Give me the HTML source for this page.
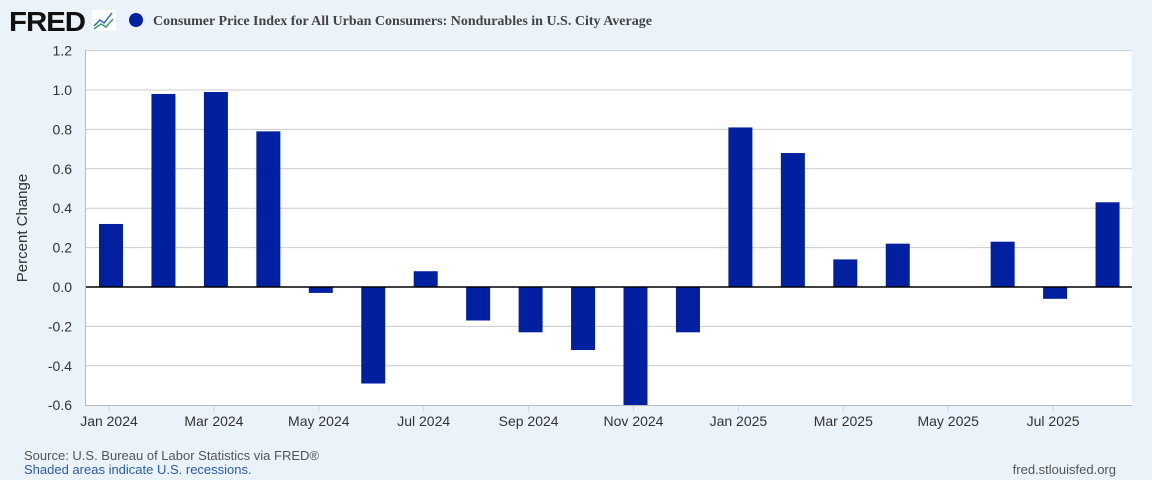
<!DOCTYPE html>
<html><head><meta charset="utf-8"><style>
body{margin:0;background:#eaf2fa;width:1152px;height:480px;overflow:hidden;font-family:"Liberation Sans",sans-serif}
svg{display:block}
</style></head><body>
<svg width="1152" height="480">
<rect width="1152" height="480" fill="#eaf2fa"/>
<g>
<text x="9" y="31" font-family="Liberation Sans" font-weight="bold" font-size="28" fill="#111" letter-spacing="-1" textLength="76" lengthAdjust="spacingAndGlyphs">FRED</text>
<rect x="92" y="10" width="24" height="21" fill="#fff"/>
<polyline points="94,26 100,20 104,23 112,13" fill="none" stroke="#2e6fbf" stroke-width="1.5"/>
<polyline points="94,29 101,24 106,27 113,19" fill="none" stroke="#3a9d6a" stroke-width="1.5"/>
</g>
<circle cx="136" cy="20" r="7" fill="#0020a0"/>
<text x="153" y="25" font-family="Liberation Serif" font-weight="bold" font-size="14" fill="#444">Consumer Price Index for All Urban Consumers: Nondurables in U.S. City Average</text>
<rect x="86" y="50" width="1046" height="355" fill="#fff"/>
<g id="grid"></g><g id="bars"></g><g id="axes"></g>
<text transform="translate(27,228) rotate(-90)" text-anchor="middle" font-size="15" fill="#333">Percent Change</text>
<text x="24" y="460" font-size="13" fill="#555">Source: U.S. Bureau of Labor Statistics via FRED®</text>
<text x="24" y="474" font-size="13" fill="#2a5da8">Shaded areas indicate U.S. recessions.</text>
<text x="1116" y="474" text-anchor="end" font-size="13" fill="#555">fred.stlouisfed.org</text>
</svg>
<script>
const months=["Jan 2024","Feb 2024","Mar 2024","Apr 2024","May 2024","Jun 2024","Jul 2024","Aug 2024","Sep 2024","Oct 2024","Nov 2024","Dec 2024","Jan 2025","Feb 2025","Mar 2025","Apr 2025","May 2025","Jun 2025","Jul 2025","Aug 2025"];
const values=[0.32,0.98,0.99,0.79,-0.03,-0.49,0.08,-0.17,-0.23,-0.32,-0.60,-0.23,0.81,0.68,0.14,0.22,0.00,0.23,-0.06,0.43];
const yTicks=[-0.6,-0.4,-0.2,0.0,0.2,0.4,0.6,0.8,1.0,1.2];
const yLabels=["-0.6","-0.4","-0.2","0.0","0.2","0.4","0.6","0.8","1.0","1.2"];
const NS="http://www.w3.org/2000/svg";
const y=v=>287-(v/0.2)*39.4;
const xc=i=>111+i*52.45;
function mk(t,a,p){const e=document.createElementNS(NS,t);for(const k in a)e.setAttribute(k,a[k]);p.appendChild(e);return e;}
const grid=document.getElementById('grid'),bars=document.getElementById('bars'),axes=document.getElementById('axes');
yTicks.forEach((v,i)=>{
  if(v!==0&&v!==-0.6){const l=mk('line',{x1:86,x2:1132,y1:y(v),y2:y(v),stroke:'#ccc','stroke-width':1},grid);
  
  }
  const t=mk('text',{x:72,y:y(v)+5,'text-anchor':'end','font-size':14,fill:'#333'},axes);
  t.textContent=yLabels[i];
  
  
});
values.forEach((v,i)=>{
  const y0=y(0),y1=y(v);
  const r=mk('rect',{x:xc(i)-12,y:Math.min(y0,y1),width:24,height:Math.max(Math.abs(y1-y0),0.01),fill:'#0020a0'},bars);
  
  
});
const z=mk('line',{x1:86,x2:1132,y1:y(0),y2:y(0),stroke:'#000','stroke-width':1.5},axes);


const b=mk('line',{x1:86,x2:1132,y1:405.5,y2:405.5,stroke:'#bbb','stroke-width':1},axes);


const lft=mk('line',{x1:85.5,x2:85.5,y1:50,y2:406,stroke:'#bbb','stroke-width':1},axes);


months.forEach((m,i)=>{
  if(i%2)return;
  const x=xc(i)-2;
  const tk=mk('line',{x1:x,x2:x,y1:406,y2:412,stroke:'#ccd6eb'},axes);
  
  
  const t=mk('text',{x:x,y:426,'text-anchor':'middle','font-size':14,fill:'#333'},axes);
  t.textContent=m;
  
  
});
</script>
</body></html>
